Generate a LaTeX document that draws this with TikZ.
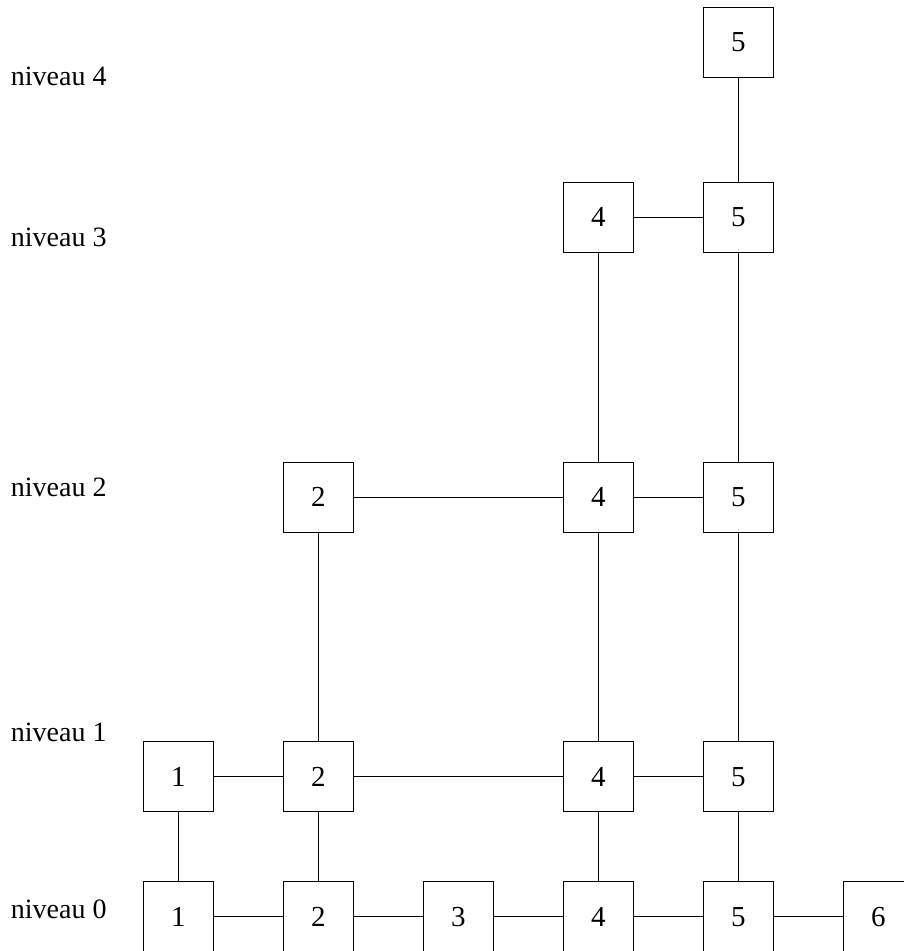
\documentclass[tikz,border=0pt]{standalone}
\usepackage{fontspec}
\setmainfont{Liberation Serif}
\begin{document}
\begin{tikzpicture}[x=1pt,y=-1pt,
  cell/.style={draw, line width=0.9pt, minimum size=70pt, inner sep=0pt, font=\fontsize{29}{33}\selectfont},
  lvl/.style={anchor=base west, inner sep=0pt, font=\fontsize{28}{32}\selectfont},
  link/.style={line width=0.9pt}]
\useasboundingbox (0,0) rectangle (903,951);
% level labels
\node[lvl] (n4) at (10.7,85) {niveau 4};
\node[lvl] (n3) at (10.7,246.7) {niveau 3};
\node[lvl] (n2) at (10.7,496) {niveau 2};
\node[lvl] (n1) at (10.7,741.7) {niveau 1};
\node[lvl] (n0) at (10.7,918.7) {niveau 0};
% level 0
\node[cell] (a1) at (178.3,916.7) {1};
\node[cell] (a2) at (318.3,916.7) {2};
\node[cell] (a3) at (458.3,916.7) {3};
\node[cell] (a4) at (598.3,916.7) {4};
\node[cell] (a5) at (738.3,916.7) {5};
\node[cell] (a6) at (878.3,916.7) {6};
% level 1
\node[cell] (b1) at (178.3,776.7) {1};
\node[cell] (b2) at (318.3,776.7) {2};
\node[cell] (b4) at (598.3,776.7) {4};
\node[cell] (b5) at (738.3,776.7) {5};
% level 2
\node[cell] (c2) at (318.3,497) {2};
\node[cell] (c4) at (598.3,497) {4};
\node[cell] (c5) at (738.3,497) {5};
% level 3
\node[cell] (d4) at (598.3,217.3) {4};
\node[cell] (d5) at (738.3,217.3) {5};
% level 4
\node[cell] (e5) at (738.3,42.5) {5};
% horizontal links
\draw[link] (a1) -- (a2);
\draw[link] (a2) -- (a3);
\draw[link] (a3) -- (a4);
\draw[link] (a4) -- (a5);
\draw[link] (a5) -- (a6);
\draw[link] (b1) -- (b2);
\draw[link] (b2) -- (b4);
\draw[link] (b4) -- (b5);
\draw[link] (c2) -- (c4);
\draw[link] (c4) -- (c5);
\draw[link] (d4) -- (d5);
% vertical links
\draw[link] (a1) -- (b1);
\draw[link] (a2) -- (b2);
\draw[link] (a4) -- (b4);
\draw[link] (a5) -- (b5);
\draw[link] (b2) -- (c2);
\draw[link] (b4) -- (c4);
\draw[link] (b5) -- (c5);
\draw[link] (c4) -- (d4);
\draw[link] (c5) -- (d5);
\draw[link] (d5) -- (e5);
\end{tikzpicture}
\end{document}
